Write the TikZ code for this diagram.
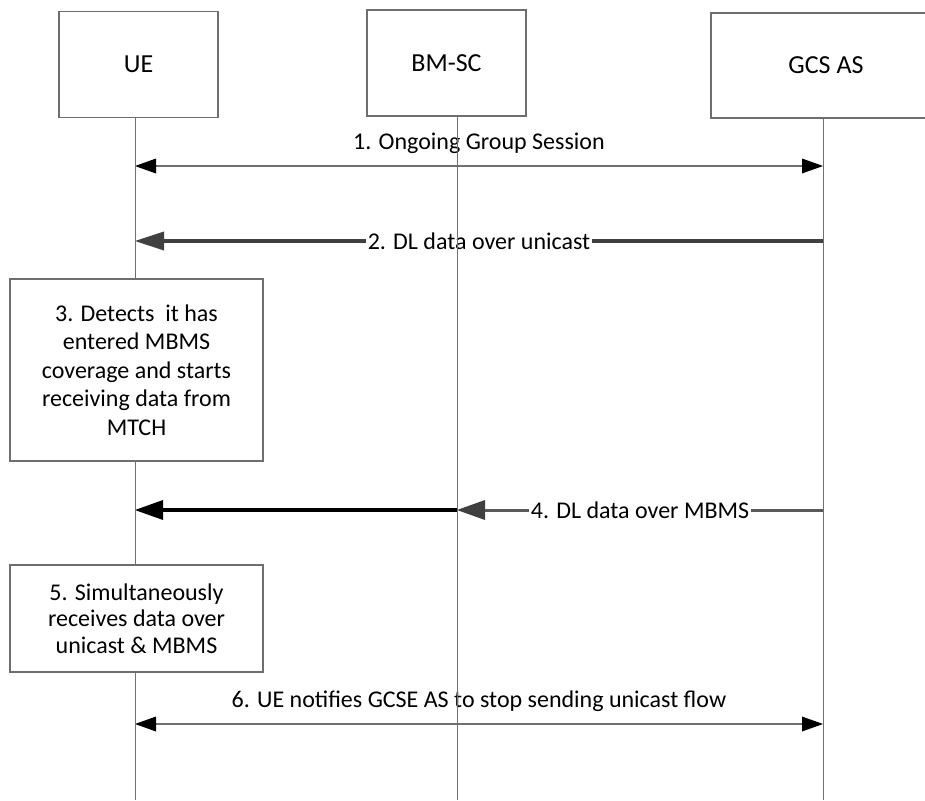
\documentclass[tikz,border=0pt]{standalone}
\usepackage{fontspec}
\setmainfont{Carlito}
\usetikzlibrary{arrows.meta}
\definecolor{boxgray}{HTML}{6E6E6E}
\definecolor{linegray}{HTML}{707070}
\definecolor{dlgray}{HTML}{404040}
\definecolor{mbmsgray}{HTML}{5A5A5A}

\begin{document}
\begin{tikzpicture}[x=1pt,y=-1pt]
\tikzset{
  entity/.style={draw=boxgray, line width=1.3pt, fill=white, font=\fontsize{26}{31}\selectfont},
  stepbox/.style={draw=boxgray, line width=1.3pt, fill=white, align=center, font=\fontsize{24}{28.5}\selectfont},
  lifeline/.style={draw=linegray, line width=1pt},
  msglabel/.style={font=\fontsize{24}{28.8}\selectfont, inner sep=2pt},
  twoway/.style={draw=linegray, line width=1.3pt,
    {Triangle[length=21pt,width=15pt,line width=0pt,color=black]}-{Triangle[length=21pt,width=15pt,line width=0pt,color=black]}},
  unicast/.style={draw=dlgray, line width=4pt, -{Triangle[length=29pt,width=19pt,line width=0pt]}},
  mbmsfar/.style={draw=mbmsgray, line width=3pt, -{Triangle[length=28pt,width=20pt,line width=0pt,color=dlgray]}},
  mbmsnear/.style={draw=black, line width=3.4pt, -{Triangle[length=28pt,width=20pt,line width=0pt]}}
}
\clip (0,0) rectangle (925,800);
\foreach \n/\x in {ue/135,bmsc/457,gcs/823}{
  \coordinate (\n-top) at (\x,110);
  \coordinate (\n-end) at (\x,800);
  \foreach \m/\y in {1/166,2/241,4/510,6/724}
    \coordinate (\n-\m) at (\x,\y);
}

\draw[twoway] (ue-1) -- (gcs-1) node[msglabel, midway, yshift=23pt] {1. Ongoing Group Session};
\draw[unicast] (gcs-2) -- (ue-2) node[msglabel, midway, fill=white] {2. DL data over unicast};
\draw[mbmsfar] (gcs-4) -- (bmsc-4) node[msglabel, midway, fill=white] {4. DL data over MBMS};
\draw[mbmsnear] (bmsc-4) -- (ue-4);
\draw[twoway] (ue-6) -- (gcs-6) node[msglabel, midway, yshift=23pt] {6. UE notifies GCSE AS to stop sending unicast flow};

\draw[lifeline] (ue-top) -- (ue-end);
\draw[lifeline] (bmsc-top) -- (bmsc-end);
\draw[lifeline] (gcs-top) -- (gcs-end);

\node[stepbox, minimum width=253pt, minimum height=182pt] (detect) at (136.5,370) {3. Detects\ \ it has\\entered MBMS\\coverage and starts\\receiving data from\\MTCH};
\node[stepbox, minimum width=253pt, minimum height=107pt, font=\fontsize{24}{26.5}\selectfont] (simul) at (136.5,618.5) {5. Simultaneously\\receives data over\\unicast \& MBMS};

\node[entity, minimum width=159pt, minimum height=106pt] (ue) at (138.5,64.5) {UE};
\node[entity, minimum width=159pt, minimum height=106pt] (bmsc) at (446.5,63) {BM-SC};
\node[entity, minimum width=230pt, minimum height=105pt] (gcs) at (826,65.5) {GCS AS};
\end{tikzpicture}
\end{document}
